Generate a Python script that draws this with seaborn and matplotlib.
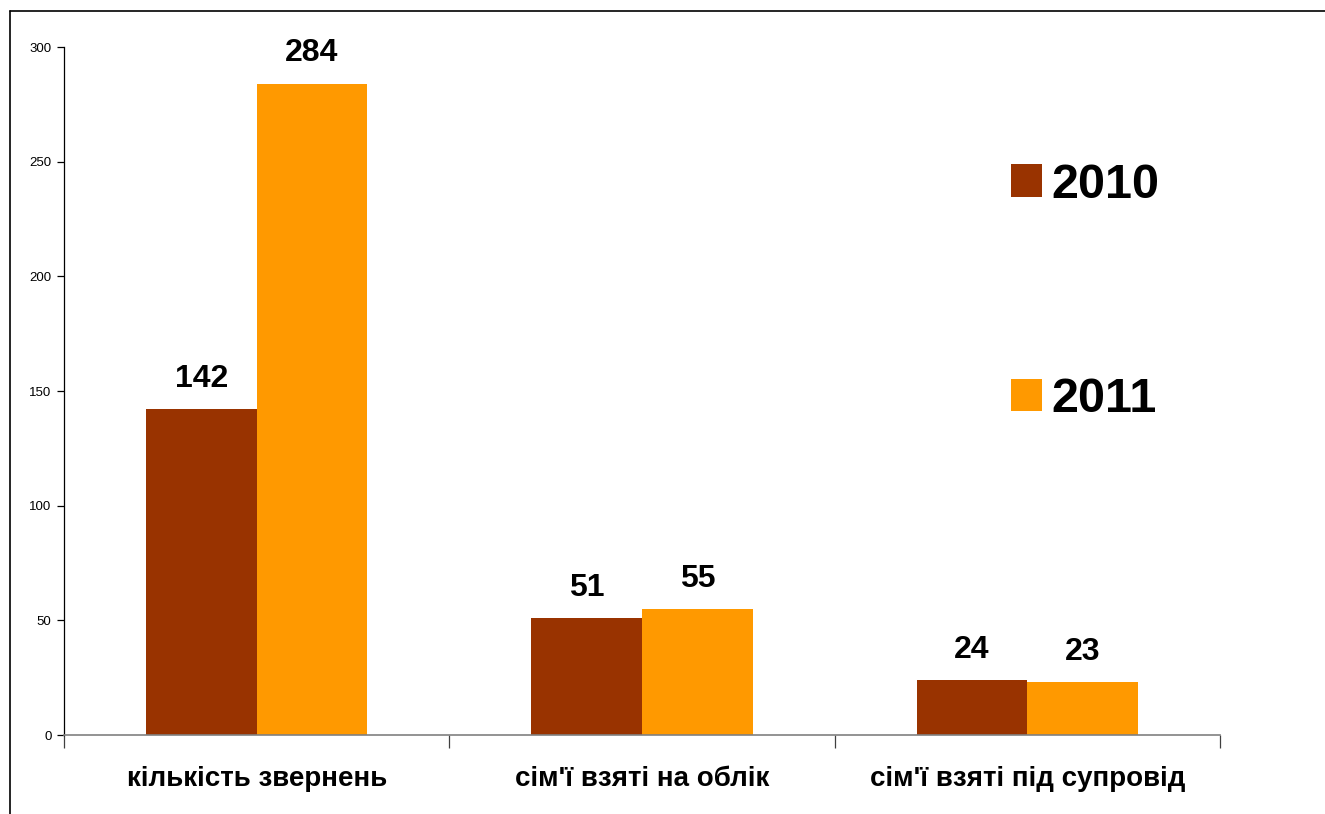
import pandas as pd
import matplotlib
matplotlib.use("Agg")
import matplotlib.pyplot as plt
from matplotlib.lines import Line2D
from matplotlib.patches import Patch
import seaborn as sns

categories = ["кількість звернень", "сім'ї взяті на облік", "сім'ї взяті під супровід"]
years = ["2010", "2011"]
values_2010 = [142, 51, 24]
values_2011 = [284, 55, 23]
colors = ["#993300", "#FF9900"]

df = pd.DataFrame({
    "category": categories * 2,
    "year": [years[0]] * 3 + [years[1]] * 3,
    "value": values_2010 + values_2011,
})

sns.set_theme(style="white")
plt.rcParams["font.family"] = ["Liberation Sans", "DejaVu Sans"]
plt.rcParams.update({"text.color": "black", "xtick.color": "black", "ytick.color": "black"})

fig = plt.figure(figsize=(13.25, 8.14), dpi=100)
ax = fig.add_axes([64 / 1325, 79 / 814, (1220 - 64) / 1325, (735 - 47) / 814])

sns.barplot(data=df, x="category", y="value", hue="year", palette=colors,
            width=0.575, gap=0, saturation=1, linewidth=0, ax=ax, legend=False)

for cont in ax.containers:
    ax.bar_label(cont, fontsize=23, fontweight="bold", padding=11, color="black")

ax.set_ylim(0, 300)
ax.set_xlim(-0.5, 2.5)
ax.set_yticks(range(0, 301, 50))
ax.set_xlabel("")
ax.set_ylabel("")
for s in ["top", "right"]:
    ax.spines[s].set_visible(False)
ax.spines["left"].set_color("black")
ax.spines["left"].set_linewidth(0.9)
ax.spines["bottom"].set_color("#808080")
ax.spines["bottom"].set_linewidth(1.2)

ax.tick_params(axis="y", which="major", left=True, length=5, width=0.9,
               color="black", labelsize=9.5, pad=4, labelcolor="black")
ax.tick_params(axis="x", which="major", bottom=False, labelsize=20, pad=16,
               labelcolor="black")
ax.set_xticks([-0.5, 0.5, 1.5, 2.5], minor=True)
ax.tick_params(axis="x", which="minor", bottom=True, length=9, width=0.9, color="#404040")
for lbl in ax.get_xticklabels():
    lbl.set_fontweight("bold")

handles = [Patch(facecolor=c, edgecolor="none") for c in colors]
leg = ax.legend(handles, years, loc="upper left", bbox_to_anchor=(0.802, 0.86),
                frameon=False, prop={"size": 35, "weight": "bold"},
                labelspacing=3.48, handlelength=0.65, handleheight=0.65,
                handletextpad=0.18, borderaxespad=0)
for t in leg.get_texts():
    t.set_color("black")

# outer frame around the chart area
fig.add_artist(Line2D([10 / 1325, 10 / 1325], [0, 1 - 11 / 814], color="black", lw=1.2))
fig.add_artist(Line2D([10 / 1325, 1], [1 - 11 / 814, 1 - 11 / 814], color="black", lw=1.2))

fig.savefig("out.png", dpi=100)
